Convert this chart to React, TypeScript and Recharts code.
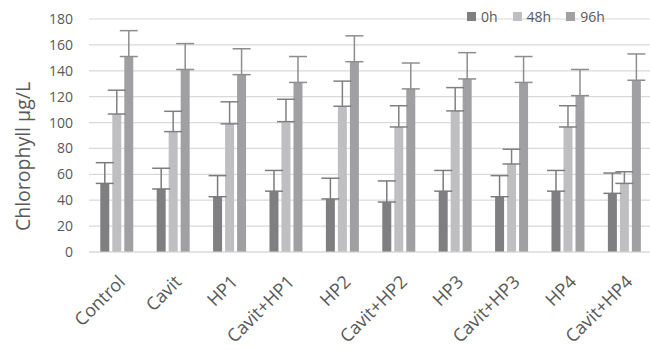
import React from 'react';
import {
  BarChart,
  Bar,
  XAxis,
  YAxis,
  CartesianGrid,
  ErrorBar,
} from 'recharts';

const categories = [
  'Control', 'Cavit', 'HP1', 'Cavit+HP1', 'HP2',
  'Cavit+HP2', 'HP3', 'Cavit+HP3', 'HP4', 'Cavit+HP4',
];
const h0 = [53, 48.7, 42.7, 47, 41, 38.6, 47, 42.7, 47, 45.3];
const h48 = [106.6, 93, 99, 100.7, 112.6, 96.6, 109, 68, 96.6, 53];
const h96 = [151, 141, 137, 131, 147, 126, 133.7, 131, 120.8, 132.7];
const err0 = [16, 16, 16.3, 16, 16, 16.3, 16, 16.3, 16, 15.7];
const err48 = [18.4, 15.7, 17, 17.3, 19.4, 16.4, 18, 11.4, 16.4, 9];
const err96 = [20, 20, 20, 20, 20, 20, 20.3, 20, 20.2, 20.3];
const yTicks = [0, 20, 40, 60, 80, 100, 120, 140, 160, 180];

const seriesNames = ['0h', '48h', '96h'];
const colors = ['#7f7f81', '#bfbfc1', '#a0a0a2'];

const data = categories.map((name, i) => ({
  name,
  h0: h0[i],
  h48: h48[i],
  h96: h96[i],
  e0: [0, err0[i]],
  e48: [0, err48[i]],
  e96: [0, err96[i]],
}));

const font = '"Open Sans", sans-serif';
const textColor = '#595959';

// legend drawn as overlay so it doesn't eat plot space
const LegendBox = () => (
  <div
    style={{
      position: 'absolute', top: 7, left: 467, display: 'flex', alignItems: 'center',
      fontFamily: font, fontSize: 14, color: textColor, lineHeight: '19px',
    }}
  >
    {seriesNames.map((s, i) => (
      <div key={s} style={{ display: 'flex', alignItems: 'center', marginRight: 15 }}>
        <span style={{ width: 9, height: 9, background: colors[i], display: 'inline-block', marginRight: 5 }} />
        <span>{s}</span>
      </div>
    ))}
  </div>
);

const YLabel = ({ viewBox }: any) => {
  const x = viewBox.x + 22;
  const y = viewBox.y + viewBox.height / 2 + 21;
  return (
    <text
      x={x}
      y={y}
      transform={`rotate(-90, ${x}, ${y})`}
      textAnchor="middle"
      dominantBaseline="central"
      fontFamily={font}
      fontSize={19.5}
      fill={textColor}
    >
      Chlorophyll μg/L
    </text>
  );
};

export default function App() {
  return (
    <div style={{ position: 'relative', width: 650, height: 351, overflow: 'hidden' }}>
      <style>{'body{margin:0}'}</style>
      <BarChart
        width={650}
        height={351}
        data={data}
        margin={{ top: 19, right: -3, bottom: 0, left: 0 }}
        barCategoryGap="20%"
        barGap={3}
      >
        <CartesianGrid vertical={false} stroke="#d9d9d9" strokeWidth={1.2} />
        <XAxis
          dataKey="name"
          height={99}
          interval={0}
          angle={-45}
          textAnchor="end"
          axisLine={{ stroke: '#d9d9d9', strokeWidth: 1.2 }}
          tickLine={false}
          tickSize={0}
          tickMargin={22}
          tick={{ fontFamily: font, fontSize: 18, fill: textColor }}
        />
        <YAxis
          width={89}
          domain={[0, 180]}
          ticks={yTicks}
          axisLine={false}
          tickLine={false}
          tickSize={0}
          tickMargin={16}
          tick={{ fontFamily: font, fontSize: 14, fill: textColor }}
          label={<YLabel />}
        />
        <Bar dataKey="h0" name="0h" fill={colors[0]} isAnimationActive={false}>
          <ErrorBar dataKey="e0" width={9} stroke="#7c7c7e" strokeWidth={1.5} direction="y" />
        </Bar>
        <Bar dataKey="h48" name="48h" fill={colors[1]} isAnimationActive={false}>
          <ErrorBar dataKey="e48" width={9} stroke="#808082" strokeWidth={1.5} direction="y" />
        </Bar>
        <Bar dataKey="h96" name="96h" fill={colors[2]} isAnimationActive={false}>
          <ErrorBar dataKey="e96" width={9} stroke="#8e8e90" strokeWidth={1.5} direction="y" />
        </Bar>
      </BarChart>
      <LegendBox />
    </div>
  );
}
